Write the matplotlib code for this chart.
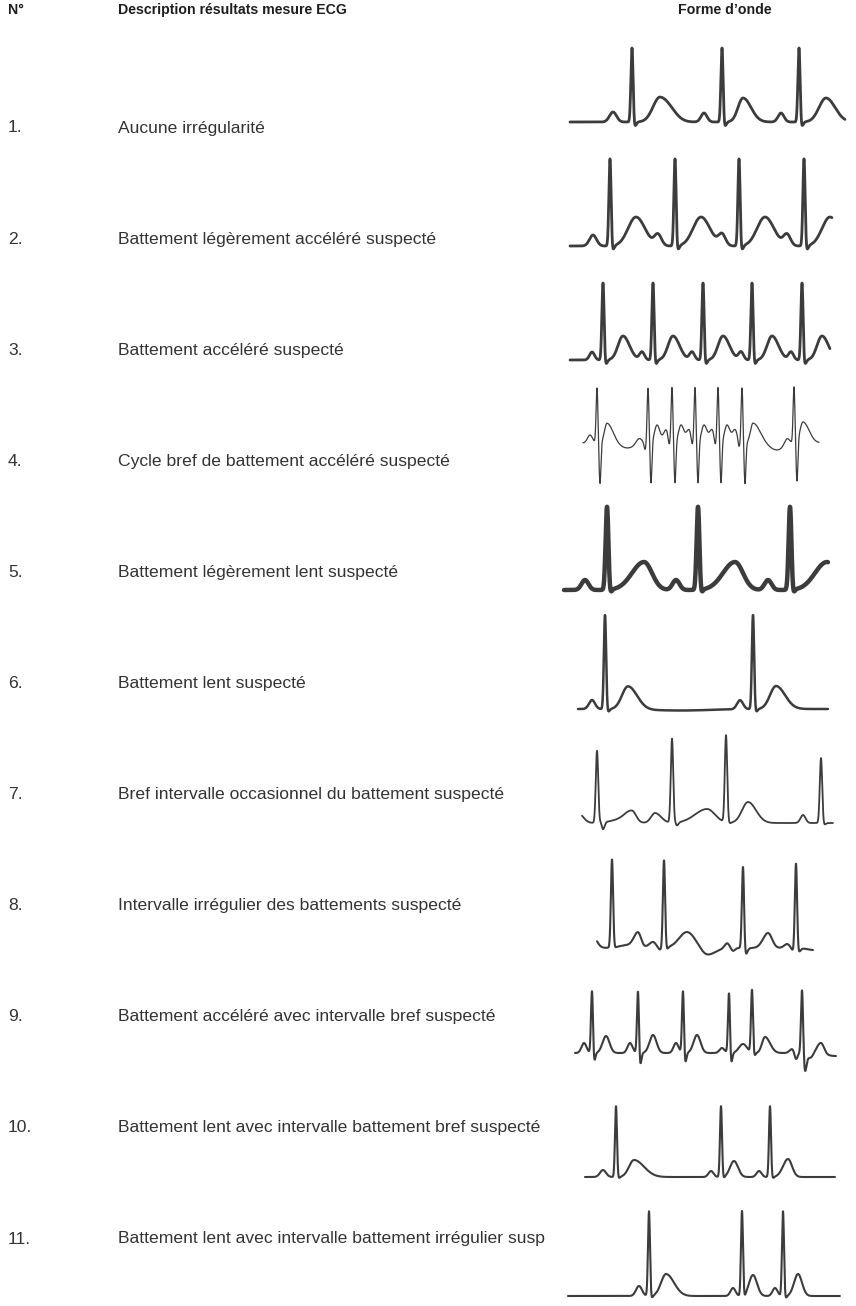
import numpy as np
import matplotlib.pyplot as plt

plt.rcParams['font.family'] = ['Liberation Sans', 'DejaVu Sans']

W, H = 856, 1306

header = ["N°", "Description résultats mesure ECG", "Forme d’onde"]
numbers = ["1.", "2.", "3.", "4.", "5.", "6.", "7.", "8.", "9.", "10.", "11."]
descriptions = [
    "Aucune irrégularité",
    "Battement légèrement accéléré suspecté",
    "Battement accéléré suspecté",
    "Cycle bref de battement accéléré suspecté",
    "Battement légèrement lent suspecté",
    "Battement lent suspecté",
    "Bref intervalle occasionnel du battement suspecté",
    "Intervalle irrégulier des battements suspecté",
    "Battement accéléré avec intervalle bref suspecté",
    "Battement lent avec intervalle battement bref suspecté",
    "Battement lent avec intervalle battement irrégulier susp",
]

# --- waveform data: R peak times / heights, other waves as (centre, amp, sigma_l, sigma_r)
r1_t = [72, 162, 239];  r1_a = [74, 74, 74]
w1 = [(53, 10, 3.5, 3.5), (144, 9, 3, 3), (221, 9, 3, 3),
      (100, 25, 7, 12), (183, 24, 5, 8), (266, 24, 7, 9),
      (74.5, -5, 0.8, 1.5), (164.5, -5, 0.8, 1.5), (241.5, -5, 0.8, 1.5),
      (120, -1.5, 8, 8)]

r2_t = [50, 115, 179, 244];  r2_a = [87, 87, 87, 87]
w2 = [(33, 11, 3.5, 3.5), (98, 11, 3.5, 3.5), (162, 11, 3.5, 3.5), (227, 11, 3.5, 3.5),
      (76, 29, 8, 9), (141, 29, 8, 9), (205, 29, 8, 9), (270, 29, 8, 9),
      (52.5, -5, 0.8, 1.5), (117.5, -5, 0.8, 1.5), (181.5, -5, 0.8, 1.5), (246.5, -5, 0.8, 1.5)]

r3_t = [43, 93, 143, 192, 242];  r3_a = [77, 77, 77, 77, 77]
w3 = [(32, 8, 2.5, 2.5), (82, 8, 2.5, 2.5), (132, 8, 2.5, 2.5), (181, 8, 2.5, 2.5), (231, 8, 2.5, 2.5),
      (63, 24, 5, 6.5), (113, 24, 5, 6.5), (163, 24, 5, 6.5), (212, 24, 5, 6.5), (262, 24, 5, 6.5),
      (45.5, -5, 0.8, 1.5), (95.5, -5, 0.8, 1.5), (145.5, -5, 0.8, 1.5), (194.5, -5, 0.8, 1.5),
      (244.5, -5, 0.8, 1.5)]

r4_t = [37, 88, 112, 135, 158, 182, 234];  r4_a = [55, 55, 55, 55, 55, 55, 56]
w4 = [(30, 8, 2.5, 2.5), (47, 20, 2.5, 6), (67, -5, 8, 8), (79, 6, 3, 3),
      (97, 18, 2.5, 3), (106, 13, 2.5, 2.5), (121, 18, 2.5, 3), (129, 13, 2.5, 2.5),
      (144, 18, 2.5, 3), (152, 13, 2.5, 2.5), (167, 18, 2.5, 3), (175, 13, 2.5, 2.5),
      (193, 20, 2.5, 7), (217, -7, 8, 6), (227, 6, 2.5, 2.5), (243, 21, 3, 6),
      (40, -41, 0.9, 0.9), (91, -41, 0.9, 0.9), (115, -41, 0.9, 0.9), (138, -41, 0.9, 0.9),
      (161, -41, 0.9, 0.9), (185, -41, 0.9, 0.9), (237, -41, 0.9, 0.9),
      (85, -7, 1, 1), (109, -7, 1, 1), (132, -7, 1, 1), (155, -7, 1, 1), (179, -7, 1, 1)]

r5_t = [47, 138, 230];  r5_a = [83, 83, 83]
w5 = [(25, 10, 3.5, 3.5), (116, 10, 3.5, 3.5), (208, 10, 3.5, 3.5),
      (84, 28, 12, 8), (175, 28, 12, 8), (267, 28, 12, 8),
      (50, -4, 1, 1.5), (141, -4, 1, 1.5), (233, -4, 1, 1.5)]

r6_t = [45, 193];  r6_a = [94, 94]
w6 = [(32, 9, 3, 3), (180, 9, 3, 3), (68, 23, 6, 9), (216, 23, 6, 9),
      (48, -3, 1, 1.5), (196, -3, 1, 1.5), (120, -1.5, 30, 30)]

r7_t = [37, 112, 166, 261];  r7_a = [72, 84, 87, 65]
w7 = [(18, 10, 5, 5), (43, -7, 1, 1.5), (60, 3, 10, 10), (72, 11, 7, 4), (95, 10, 4, 6),
      (117, -3, 1, 1.5), (147, 14, 12, 8), (169, -1, 1, 1.5), (188, 21, 6, 8),
      (243, 8, 2.5, 2.5), (264, -2, 1, 1.5)]

r8_t = [52, 104, 183, 236];  r8_a = [88, 88, 82, 85]
w8 = [(33, 11, 5, 4), (54, -1, 1, 1.5), (70, 3, 10, 8), (78, 14, 4, 3), (93, 6, 4, 3),
      (100, -2, 2, 2), (106, -3, 1, 1.5), (127, 16, 8, 8), (147, -7, 6, 8), (167, 5, 2.5, 2.5),
      (173, -3, 2, 2), (185, -8, 1, 2), (208, 15, 5, 4), (227, 4, 3, 3), (233, -3, 2, 1),
      (238, -5, 1, 2), (253, -2, 6, 6)]

r9_t = [32, 78, 123, 169, 192, 242];  r9_a = [63, 63, 63, 61, 63, 63]
w9 = [(24, 10, 2.5, 2.5), (70, 10, 2.5, 2.5), (116, 10, 2.5, 2.5), (162, 5, 2.5, 2.5),
      (232, 4, 2.5, 2.5), (236, -7, 1.5, 1.5),
      (34, -10, 1, 1.2), (80, -14, 1, 1.2), (125, -12, 1, 1.2), (171, -12, 1, 1.2),
      (194, -4, 1, 1.2), (245, -17, 1, 1.5),
      (46, 17, 3.5, 3.5), (93, 18, 3.5, 3.5), (137, 18, 3.5, 3.5), (183, 9, 4, 4),
      (205, 16, 3, 5), (261, 11, 4, 3), (250, -5, 3, 3), (276, -3, 10, 10)]

r10_t = [56, 161, 210];  r10_a = [71, 71, 71]
w10 = [(43, 7, 3, 3), (151, 6, 2.5, 2.5), (199, 6, 2.5, 2.5),
       (74, 17, 5, 10), (174, 16, 4, 4), (228, 18, 5, 4),
       (58, -2, 1, 1.5), (163, -2, 1, 1.5), (212, -2, 1, 1.5)]

r11_t = [89, 182, 223];  r11_a = [85, 85, 85]
w11 = [(79, 10, 3, 3), (173, 8, 2.5, 2.5), (215, 8, 2.5, 2.5),
       (106, 22, 5, 8), (193, 21, 4, 4), (238, 22, 4, 4),
       (91, -3, 1, 1.5), (184, -3, 1, 1.5), (225, -3, 1, 1.5)]

r_times = [r1_t, r2_t, r3_t, r4_t, r5_t, r6_t, r7_t, r8_t, r9_t, r10_t, r11_t]
r_amps = [r1_a, r2_a, r3_a, r4_a, r5_a, r6_a, r7_a, r8_a, r9_a, r10_a, r11_a]
waves = [w1, w2, w3, w4, w5, w6, w7, w8, w9, w10, w11]

# layout (pixels)
spans = [(10, 285), (10, 272), (10, 270), (23, 259), (4, 268), (18, 268),
         (22, 273), (37, 253), (15, 276), (25, 275), (8, 280)]
baselines = [122, 246, 360, 443, 590, 709, 823, 948, 1053, 1177, 1296]
widths = [2.0, 2.0, 2.0, 0.9, 3.2, 1.8, 1.3, 1.5, 1.5, 1.5, 1.5]
r_sig = [1.1, 1.1, 1.1, 0.9, 1.4, 1.1, 1.2, 1.1, 1.0, 1.0, 1.0]
text_y = [128 + 111.1 * i for i in range(11)]


def trace(t, parts):
    y = np.zeros_like(t)
    for c, a, sl, sr in parts:
        s = np.where(t < c, sl, sr)
        y += a * np.exp(-0.5 * ((t - c) / s) ** 2)
    return y


fig = plt.figure(figsize=(W / 100, H / 100), dpi=100)
ax = fig.add_axes([0, 0, 1, 1])
ax.set_xlim(0, W)
ax.set_ylim(H, 0)
ax.axis('off')

hx = [8, 118, 678]
for x, s in zip(hx, header):
    ax.text(x, 10, s, fontsize=10.2, fontweight='bold', color='#1e1e1e',
            va='center', ha='left')

for i in range(11):
    ax.text(8, text_y[i], numbers[i], fontsize=12.6, color='#333333', va='center', ha='left')
    ax.text(118, text_y[i], descriptions[i], fontsize=12.6, color='#333333', va='center', ha='left')

x0, wpx = 560, 296
for i in range(11):
    base = baselines[i]
    top, bot = base - 100, base + 45
    wax = fig.add_axes([x0 / W, (H - bot) / H, wpx / W, (bot - top) / H])
    wax.set_xlim(0, wpx)
    wax.set_ylim(-45, 100)
    wax.axis('off')
    parts = [(r, a, r_sig[i], r_sig[i]) for r, a in zip(r_times[i], r_amps[i])] + waves[i]
    t = np.arange(spans[i][0], spans[i][1], 0.05)
    wax.plot(t, trace(t, parts), color='#3c3c3c', lw=widths[i], clip_on=False,
             solid_joinstyle='round', solid_capstyle='round')

fig.savefig('out.png', dpi=100)
